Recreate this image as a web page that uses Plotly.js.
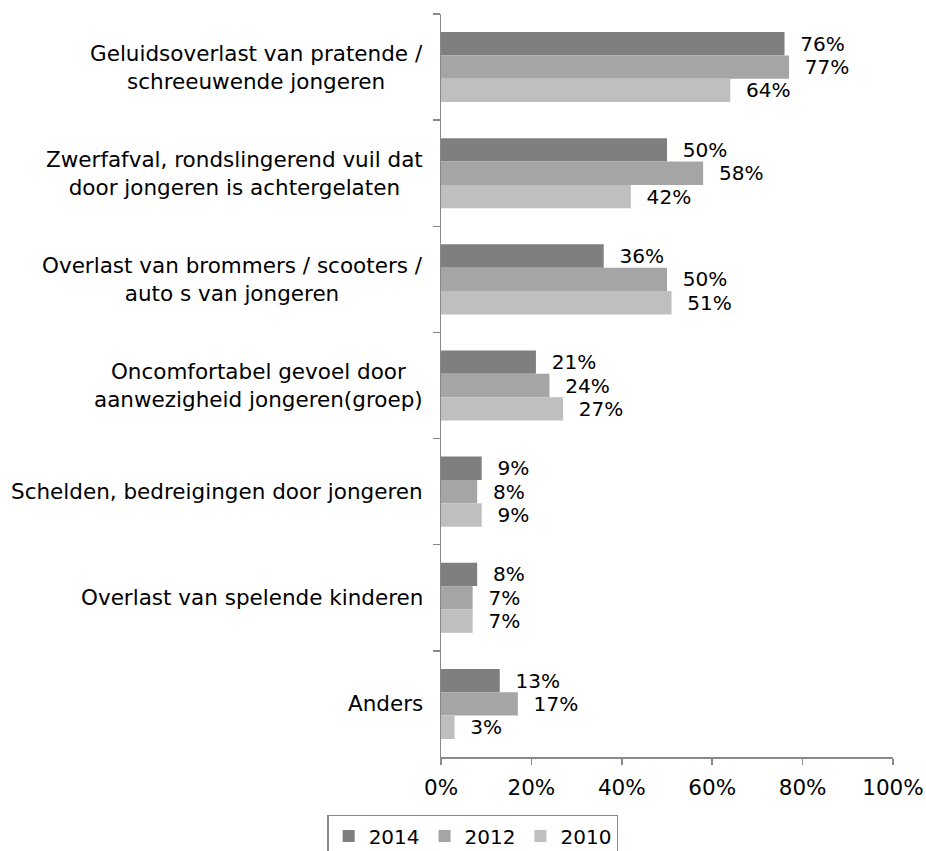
<!DOCTYPE html>
<html>
<head>
<meta charset="utf-8">
<script src="https://cdn.plot.ly/plotly-3.0.1.min.js"></script>
<style>
  html, body { margin: 0; padding: 0; background: #fff; }
  #chart { width: 926px; height: 851px; }
</style>
</head>
<body>
<div id="chart"></div>
<script>
// categories, top to bottom
const categories = [
    'Geluidsoverlast van pratende /<br>schreeuwende jongeren',
    'Zwerfafval, rondslingerend vuil dat<br>door jongeren is achtergelaten',
    'Overlast van brommers / scooters /<br>auto s van jongeren',
    'Oncomfortabel gevoel door<br>aanwezigheid jongeren(groep)',
    'Schelden, bedreigingen door jongeren',
    'Overlast van spelende kinderen',
    'Anders'
];

const years = ['2014', '2012', '2010'];
const values2014 = [76, 50, 36, 21, 9, 8, 13];
const values2012 = [77, 58, 50, 24, 8, 7, 17];
const values2010 = [64, 42, 51, 27, 9, 7, 3];
const colors = ['#7f7f7f', '#a5a5a5', '#bfbfbf'];

const xTicks = [0, 20, 40, 60, 80, 100];

const font = 'DejaVu Sans, Verdana, sans-serif';
const fontSize = 21.5;
const axisColor = '#898989';

const series = [values2014, values2012, values2010];
const data = series.map((vals, i) => ({
    type: 'bar',
    orientation: 'h',
    name: years[i],
    x: vals,
    y: categories,
    // nbsp to keep a small gap between bar end and label, like the original
    text: vals.map(v => '\u00a0\u00a0' + v + '%'),
    textposition: 'outside',
    cliponaxis: false,
    textfont: { family: font, size: fontSize, color: '#000' },
    marker: { color: colors[i] },
    hoverinfo: 'skip'
}));

// category labels as annotations so that multi-line labels are centred
const annotations = categories.map(c => ({
    text: c,
    x: 0,
    xref: 'paper',
    y: c,
    yref: 'y',
    xanchor: 'right',
    xshift: -16,
    align: 'center',
    showarrow: false,
    font: { family: font, size: fontSize, color: '#000' }
}));

const layout = {
    width: 926,
    height: 851,
    margin: { l: 441, r: 33, t: 14, b: 94, autoexpand: false },
    paper_bgcolor: '#fff',
    plot_bgcolor: '#fff',
    barmode: 'group',
    bargap: 0.34,
    bargroupgap: 0,
    font: { family: font, size: fontSize, color: '#000' },
    xaxis: {
        range: [0, 100],
        tickvals: xTicks,
        ticktext: xTicks.map(t => t + '%'),
        showgrid: false,
        zeroline: false,
        showline: true,
        linecolor: axisColor,
        linewidth: 1.5,
        ticks: 'outside',
        ticklen: 6,
        tickwidth: 1.5,
        tickcolor: axisColor,
        ticklabelstandoff: 5,
        tickfont: { family: font, size: fontSize, color: '#000' }
    },
    yaxis: {
        autorange: 'reversed',
        showticklabels: false,
        showgrid: false,
        zeroline: false,
        showline: true,
        linecolor: axisColor,
        linewidth: 1.5,
        ticks: 'outside',
        tickson: 'boundaries',
        ticklen: 7,
        tickwidth: 1.5,
        tickcolor: axisColor
    },
    showlegend: true,
    legend: {
        orientation: 'h',
        x: 0.07,
        xanchor: 'center',
        y: -0.078,
        yanchor: 'top',
        bordercolor: axisColor,
        borderwidth: 1.5,
        font: { family: font, size: 20, color: '#000' },
        traceorder: 'normal'
    },
    annotations: annotations
};

Plotly.newPlot('chart', data, layout, { displayModeBar: false, staticPlot: true });
</script>
</body>
</html>
